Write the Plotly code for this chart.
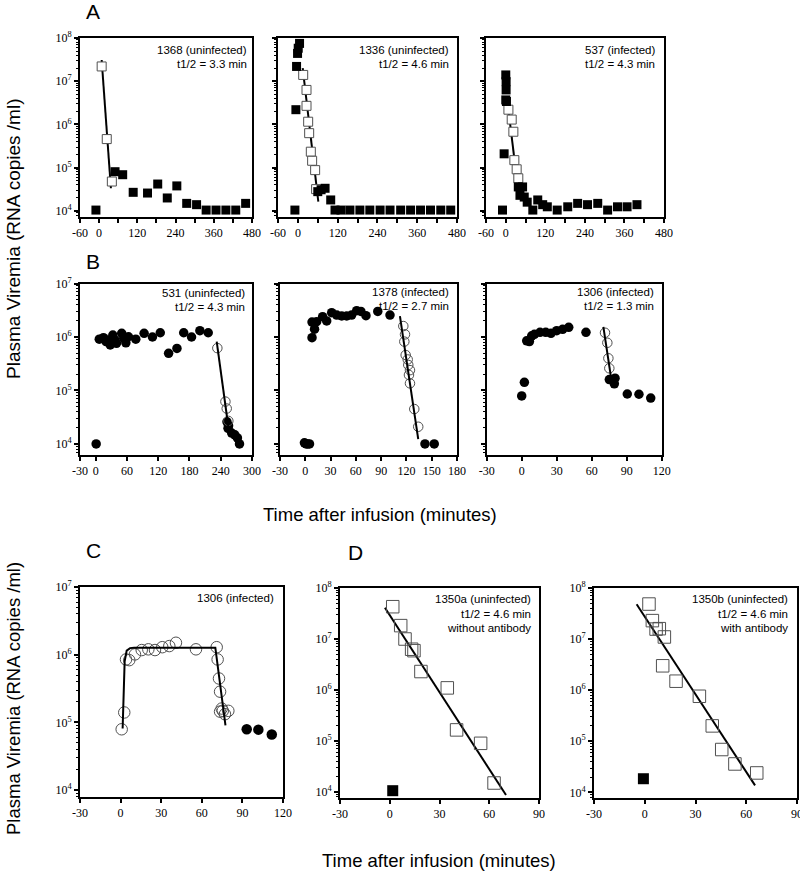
import plotly.graph_objects as go

W, H = 800, 873

# ---------------- data (time in minutes, plasma viremia in RNA copies/ml) ----------------
# A1: 1368 (uninfected)
a1_fill_t = [-10, 50, 74, 107, 152, 184, 214, 244, 275, 306, 336, 367, 398, 429, 460]
a1_fill_v = [1.05e4, 8.1e4, 6.9e4, 2.7e4, 2.6e4, 4.2e4, 2.0e4, 3.8e4, 1.5e4, 1.4e4, 1.05e4, 1.05e4, 1.05e4, 1.05e4, 1.5e4]
a1_open_t = [8, 24, 40]
a1_open_v = [2.2e7, 4.6e5, 4.8e4]
a1_fit_t = [8, 37]
a1_fit_v = [3.1e7, 3.35e4]

# A2: 1336 (uninfected)
a2_fill_t = [-9, -6, -4, -1, 1, 5, 60, 70, 82, 99, 112, 130, 157, 187, 217, 248, 278, 310, 340, 370, 400, 431, 461]
a2_fill_v = [1.05e4, 2.2e6, 2.2e7, 4.4e7, 5.8e7, 7.5e7, 2.8e4, 3.1e4, 3.35e4, 1.8e4,
             1.05e4, 1.05e4, 1.05e4, 1.05e4, 1.05e4, 1.05e4, 1.05e4, 1.05e4, 1.05e4, 1.05e4, 1.05e4, 1.05e4, 1.05e4]
a2_open_t = [16, 26, 26, 31, 34, 39, 43, 52, 55]
a2_open_v = [1.4e7, 6.3e6, 2.7e6, 1.16e6, 6.3e5, 2.35e5, 1.45e5, 8.8e4, 3.2e4]
a2_fit_t = [14.5, 61.6]
a2_fit_v = [2.0e7, 1.64e4]

# A3: 537 (infected)
a3_fill_t = [-10, -5, 0, 1, 1, 0, 2, 38, 51, 43, 56, 65, 82, 97, 112, 126, 156, 188, 218, 248, 279, 309, 339, 368, 398]
a3_fill_v = [1.05e4, 2.1e5, 1.4e7, 9.8e6, 6.3e6, 3.7e6, 3.4e6, 3.6e4, 3.6e4, 2.3e4, 2.1e4, 1.6e4,
             1.05e4, 1.8e4, 1.4e4, 1.25e4, 1.05e4, 1.25e4, 1.5e4, 1.4e4, 1.5e4, 1.05e4, 1.25e4, 1.25e4, 1.4e4]
a3_open_t = [8, 18, 23, 26, 33, 38]
a3_open_v = [2.2e6, 1.3e6, 6.8e5, 1.5e5, 9.2e4, 5.7e4]
a3_fit_t = [9, 36]
a3_fit_v = [1.9e6, 3.8e4]

# B1: 531 (uninfected)
b1_fill_t = [1, 7, 15, 20, 24, 28, 33, 37, 40, 50, 54, 58, 63, 77, 93, 109, 124,
             140, 156, 169, 184, 200, 216, 252, 255, 254, 261, 267, 272, 276]
b1_fill_v = [1.0e4, 9.1e5, 9.7e5, 8.2e5, 8.8e5, 7.1e5, 1.09e6, 8.8e5, 7.6e5, 1.17e6, 9.5e5, 7.8e5, 1.01e6,
             9.1e5, 1.17e6, 1.0e6, 1.2e6, 4.95e5, 6.1e5, 1.2e6, 1.0e6, 1.31e6, 1.2e6,
             2.6e4, 2.2e4, 1.96e4, 1.6e4, 1.48e4, 1.3e4, 1.0e4]
b1_open_t = [233.5, 249, 251.5, 254.6]
b1_open_v = [6.2e5, 6.2e4, 4.6e4, 2.7e4]
b1_fit_t = [232.3, 254.6]
b1_fit_v = [8.2e5, 2.1e4]

# B2: 1378 (infected)
b2_fill_t = [-1, 1, 3, 5, 8, 8, 11, 13.5, 20.6, 25.4, 31.3, 37.3, 43.2, 49.1, 55, 61, 66, 72, 86, 100.5, 142, 153]
b2_fill_v = [1.05e4, 1.0e4, 1.0e4, 1.0e4, 9.7e5, 1.9e6, 1.4e6, 1.93e6, 2.4e6, 2.0e6, 2.85e6, 2.57e6,
             2.47e6, 2.47e6, 2.57e6, 3.1e6, 3.0e6, 2.5e6, 3.0e6, 2.57e6, 1.0e4, 1.0e4]
b2_open_t = [116.3, 118.3, 117.5, 119.1, 121.5, 122.2, 124.2, 123, 124.2, 129.3, 134]
b2_open_v = [1.6e6, 1.12e6, 8.2e5, 4.6e5, 3.8e5, 3.0e5, 2.4e5, 1.95e5, 1.36e5, 4.5e4, 2.1e4]
b2_fit_t = [112.3, 134]
b2_fit_v = [2.46e6, 1.23e4]

# B3: 1306 (infected)
b3_fill_t = [0, 2.3, 4.3, 6.6, 8.6, 10.9, 15.7, 20.6, 25.1, 30, 35.1, 40.3, 55.1, 75.1, 78, 80, 79.4, 90.5, 100.5, 110.6]
b3_fill_v = [7.9e4, 1.42e5, 8.5e5, 8.2e5, 1.05e6, 1.12e6, 1.22e6, 1.22e6, 1.17e6, 1.31e6, 1.39e6, 1.52e6,
             1.22e6, 1.6e5, 1.56e5, 1.7e5, 1.33e5, 8.6e4, 8.5e4, 7.2e4]
b3_open_t = [71.4, 73.4, 74.3, 75.1]
b3_open_v = [1.2e6, 7.8e5, 4.0e5, 2.6e5]
b3_fit_t = [70, 77.1]
b3_fit_v = [1.55e6, 1.46e5]

# C: 1306 (infected)
c_open_t = [0.8, 2.7, 4, 6.4, 10.6, 15.6, 20.5, 25.4, 30.8, 36, 40.9, 55.7, 71, 71.7, 72.7, 73.5, 73.5, 75.5, 77.1, 79.6, 74.7]
c_open_v = [7.9e4, 1.4e5, 8.5e5, 8.3e5, 1.01e6, 1.17e6, 1.2e6, 1.17e6, 1.29e6, 1.34e6, 1.5e6, 1.2e6,
            1.29e6, 8.5e5, 4.45e5, 2.84e5, 1.44e5, 1.48e5, 1.32e5, 1.48e5, 1.6e5]
c_fill_t = [93.2, 101.8, 111.7]
c_fill_v = [7.9e4, 7.8e4, 6.6e4]
c_fit_t = [1.5, 3, 4.5, 7, 10, 70, 77.5]
c_fit_v = [8.1e4, 8.0e5, 1.15e6, 1.25e6, 1.27e6, 1.27e6, 9.0e4]

# D1: 1350a (uninfected), without antibody
d1_open_t = [1.8, 6.6, 9.2, 13.2, 14.6, 18.8, 34.7, 40.3, 54.8, 62.9]
d1_open_v = [4.3e7, 1.83e7, 1.0e7, 6.3e6, 5.9e6, 2.3e6, 1.1e6, 1.65e5, 9.0e4, 1.5e4]
d1_fill_t = [1.8]
d1_fill_v = [1.06e4]
d1_fit_t = [-2.9, 70.1]
d1_fit_v = [4.1e7, 8.7e3]

# D2: 1350b (uninfected), with antibody
d2_open_t = [2.5, 4.5, 8.6, 6.7, 11.6, 10.6, 18.5, 32.3, 39.9, 45.5, 53.3, 66.2]
d2_open_v = [4.85e7, 2.3e7, 1.6e7, 1.57e7, 1.1e7, 3.0e6, 1.5e6, 7.6e5, 2.0e5, 6.9e4, 3.6e4, 2.4e4]
d2_fill_t = [-0.8]
d2_fill_v = [1.85e4]
d2_fit_t = [-4.8, 65.2]
d2_fit_v = [4.8e7, 1.37e4]

# tick labels
ticks_a_x = [-60, 0, 120, 240, 360, 480]
ticks_b1_x = [-30, 0, 60, 120, 180, 240, 300]
ticks_b2_x = [-30, 0, 30, 60, 90, 120, 150, 180]
ticks_b3_x = [-30, 0, 30, 60, 90, 120]
ticks_c_x = [-30, 0, 30, 60, 90, 120]
ticks_d_x = [-30, 0, 30, 60, 90]

# ---------------- figure ----------------
fig = go.Figure()

FILL_SQ = dict(symbol="square", color="black", size=9, line=dict(width=0))
OPEN_SQ = dict(symbol="square", color="white", size=9, line=dict(width=1, color="#505050"))
FILL_CI = dict(symbol="circle", color="black", size=9.5, line=dict(width=0))
OPEN_CI = dict(symbol="circle-open", color="#505050", size=9.5, line=dict(width=1))
FIT = dict(color="black", width=2)

def px_x(p):
    return p / W

def px_y(p):
    return 1 - p / H

panels = [
    dict(xr=[-60, 480], yr=[3.861, 8], xp=(80, 252), yp=(38, 217), xt=ticks_a_x, yd=[4, 5, 6, 7, 8], yl=True, minor=60),
    dict(xr=[-60, 480], yr=[3.861, 8], xp=(278, 457), yp=(38, 217), xt=ticks_a_x, yd=[4, 5, 6, 7, 8], yl=False, minor=60),
    dict(xr=[-60, 480], yr=[3.861, 8], xp=(486, 664), yp=(38, 217), xt=ticks_a_x, yd=[4, 5, 6, 7, 8], yl=False, minor=60),
    dict(xr=[-30, 300], yr=[3.794, 7], xp=(80, 252), yp=(283.5, 455), xt=ticks_b1_x, yd=[4, 5, 6, 7], yl=True, minor=None),
    dict(xr=[-30, 180], yr=[3.794, 7], xp=(280, 457), yp=(283.5, 455), xt=ticks_b2_x, yd=[4, 5, 6, 7], yl=False, minor=None),
    dict(xr=[-30, 120], yr=[3.794, 7], xp=(486.7, 661.7), yp=(283.5, 455), xt=ticks_b3_x, yd=[4, 5, 6, 7], yl=False, minor=None),
    dict(xr=[-30, 120], yr=[3.897, 7], xp=(80, 283), yp=(587, 797), xt=ticks_c_x, yd=[4, 5, 6, 7], yl=True, minor=None),
    dict(xr=[-30, 90], yr=[3.882, 8], xp=(340, 539), yp=(588, 798), xt=ticks_d_x, yd=[4, 5, 6, 7, 8], yl=True, minor=None),
    dict(xr=[-30, 90], yr=[3.89, 8], xp=(594, 797), yp=(588, 798), xt=ticks_d_x, yd=[4, 5, 6, 7, 8], yl=True, minor=None),
]

series = [
    [(a1_fit_t, a1_fit_v, "fit", None), (a1_fill_t, a1_fill_v, "m", FILL_SQ), (a1_open_t, a1_open_v, "m", OPEN_SQ)],
    [(a2_fit_t, a2_fit_v, "fit", None), (a2_open_t, a2_open_v, "m", OPEN_SQ), (a2_fill_t, a2_fill_v, "m", FILL_SQ)],
    [(a3_fit_t, a3_fit_v, "fit", None), (a3_open_t, a3_open_v, "m", OPEN_SQ), (a3_fill_t, a3_fill_v, "m", FILL_SQ)],
    [(b1_fill_t, b1_fill_v, "m", FILL_CI), (b1_open_t, b1_open_v, "m", OPEN_CI), (b1_fit_t, b1_fit_v, "fit", None)],
    [(b2_fill_t, b2_fill_v, "m", FILL_CI), (b2_open_t, b2_open_v, "m", OPEN_CI), (b2_fit_t, b2_fit_v, "fit", None)],
    [(b3_fill_t, b3_fill_v, "m", FILL_CI), (b3_open_t, b3_open_v, "m", OPEN_CI), (b3_fit_t, b3_fit_v, "fit", None)],
    [(c_open_t, c_open_v, "m", dict(symbol="circle-open", color="#505050", size=11.5, line=dict(width=1))),
     (c_fill_t, c_fill_v, "m", dict(symbol="circle", color="black", size=10.5)),
     (c_fit_t, c_fit_v, "fit", None)],
    [(d1_fit_t, d1_fit_v, "fit", None),
     (d1_open_t, d1_open_v, "m", dict(symbol="square-open", color="#505050", size=12.5, line=dict(width=1))),
     (d1_fill_t, d1_fill_v, "m", dict(symbol="square", color="black", size=11))],
    [(d2_fit_t, d2_fit_v, "fit", None),
     (d2_open_t, d2_open_v, "m", dict(symbol="square-open", color="#505050", size=12.5, line=dict(width=1))),
     (d2_fill_t, d2_fill_v, "m", dict(symbol="square", color="black", size=11))],
]

layout = dict(width=W, height=H, margin=dict(l=0, r=0, t=0, b=0), autosize=False,
              paper_bgcolor="white", plot_bgcolor="white", showlegend=False)

for i, (p, sers) in enumerate(zip(panels, series)):
    n = "" if i == 0 else str(i + 1)
    xa = "x" + n
    ya = "y" + n
    for t, v, kind, mk in sers:
        if kind == "fit":
            fig.add_trace(go.Scatter(x=t, y=v, mode="lines", line=FIT, xaxis=xa, yaxis=ya, hoverinfo="skip"))
        else:
            fig.add_trace(go.Scatter(x=t, y=v, mode="markers", marker=mk, xaxis=xa, yaxis=ya, cliponaxis=False))
    xdict = dict(domain=[px_x(p["xp"][0]), px_x(p["xp"][1])], range=p["xr"], anchor=ya,
                 showline=True, linecolor="black", linewidth=2, mirror=True,
                 ticks="outside", ticklen=4, tickwidth=1.5, tickcolor="black",
                 tickmode="array", tickvals=p["xt"], ticktext=[str(v) for v in p["xt"]],
                 ticklabeloverflow="allow",
                 showgrid=False, zeroline=False, automargin=False, fixedrange=True,
                 tickfont=dict(family="Liberation Serif", size=12, color="black"))
    if p["minor"]:
        xdict["minor"] = dict(ticks="outside", ticklen=4, tickwidth=1.5, tickcolor="black",
                              dtick=p["minor"], tick0=0, showgrid=False)
    ydict = dict(domain=[px_y(p["yp"][1]), px_y(p["yp"][0])], type="log", range=p["yr"], anchor=xa,
                 showline=True, linecolor="black", linewidth=2, mirror=True,
                 ticks="outside", ticklen=4, tickwidth=1.5, tickcolor="black",
                 tickmode="array", tickvals=[10 ** d for d in p["yd"]],
                 ticktext=["10<sup>%d</sup>" % d for d in p["yd"]],
                 showticklabels=p["yl"],
                 minor=dict(ticks="outside", ticklen=2, tickwidth=1, tickcolor="black", dtick="D1", showgrid=False),
                 showgrid=False, zeroline=False, automargin=False, fixedrange=True,
                 tickfont=dict(family="Liberation Serif", size=12, color="black"))
    layout["xaxis" + n] = xdict
    layout["yaxis" + n] = ydict

# ---------------- annotations ----------------
ann = []
def label(text, xr_px, y_px, size=11.5):
    ann.append(dict(text=text, x=px_x(xr_px), y=px_y(y_px), xref="paper", yref="paper",
                    xanchor="right", yanchor="middle", showarrow=False,
                    font=dict(family="Liberation Sans", size=size, color="black")))

label("1368 (uninfected)", 249, 50); label("t1/2 = 3.3 min", 249, 64)
label("1336 (uninfected)", 451, 50); label("t1/2 = 4.6 min", 451, 64)
label("537 (infected)", 657, 50); label("t1/2 = 4.3 min", 657, 64)
label("531 (uninfected)", 247, 293); label("t1/2 = 4.3 min", 247, 307)
label("1378 (infected)", 451, 292); label("t1/2 = 2.7 min", 451, 306)
label("1306 (infected)", 656, 292); label("t1/2 = 1.3 min", 656, 306)
label("1306 (infected)", 276, 598)
label("1350a (uninfected)", 533, 599); label("t1/2 = 4.6 min", 533, 614); label("without antibody", 533, 628)
label("1350b (uninfected)", 790, 599); label("t1/2 = 4.6 min", 790, 614); label("with antibody", 790, 628)

def letter(text, x_px, y_px):
    ann.append(dict(text=text, x=px_x(x_px), y=px_y(y_px), xref="paper", yref="paper",
                    xanchor="center", yanchor="middle", showarrow=False,
                    font=dict(family="Liberation Sans", size=21, color="black")))

letter("A", 93, 12); letter("B", 93, 261); letter("C", 93, 550); letter("D", 355, 552)

def title(text, x_px, y_px, angle=0, size=19):
    ann.append(dict(text=text, x=px_x(x_px), y=px_y(y_px), xref="paper", yref="paper",
                    xanchor="center", yanchor="middle", showarrow=False, textangle=angle,
                    font=dict(family="Liberation Sans", size=size, color="black")))

title("Plasma Viremia (RNA copies /ml)", 13, 239, -90, 19)
title("Plasma Viremia (RNA copies /ml)", 13, 699, -90, 18.5)
title("Time after infusion (minutes)", 380, 514, 0, 18.5)
title("Time after infusion (minutes)", 439, 860, 0, 18.5)

layout["annotations"] = ann
fig.update_layout(**layout)
fig.write_html("out.html", config={"displayModeBar": False},
               post_script="document.body.style.margin='0';document.body.style.overflow='hidden';")
